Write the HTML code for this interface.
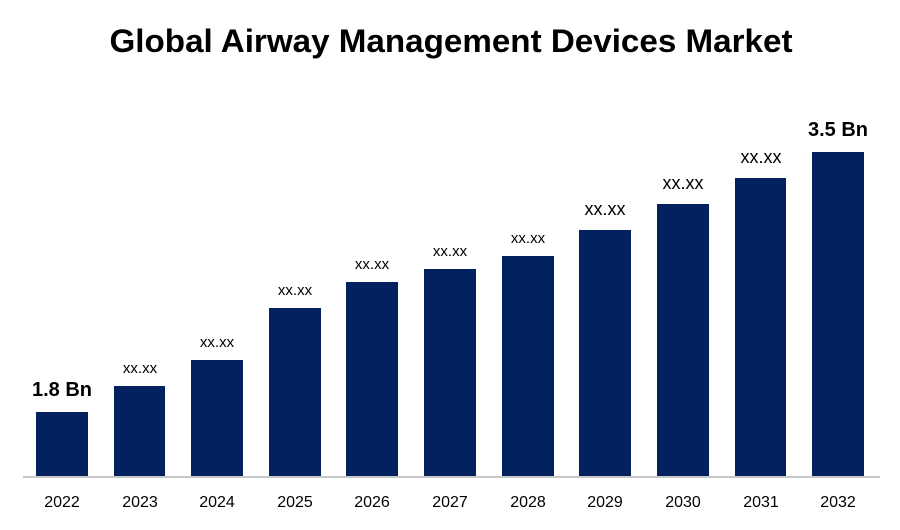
<!DOCTYPE html>
<html><head><style>body{margin:0;background:#fff}</style></head><body>
<svg width="900" height="525" xmlns="http://www.w3.org/2000/svg" font-family="Liberation Sans, sans-serif">
<rect width="900" height="525" fill="#fff"/>
<text x="451" y="52" text-anchor="middle" font-size="32" font-weight="bold" textLength="683" lengthAdjust="spacingAndGlyphs" fill="#000">Global Airway Management Devices Market</text>
<line x1="23" y1="477" x2="880" y2="477" stroke="#c8c8c8" stroke-width="2"/>
<g fill="#02215e">
<rect x="36" y="412" width="52" height="64"/>
<rect x="114" y="386" width="51" height="90"/>
<rect x="191" y="360" width="52" height="116"/>
<rect x="269" y="308" width="52" height="168"/>
<rect x="346" y="282" width="52" height="194"/>
<rect x="424" y="269" width="52" height="207"/>
<rect x="502" y="256" width="52" height="220"/>
<rect x="579" y="230" width="52" height="246"/>
<rect x="657" y="204" width="52" height="272"/>
<rect x="735" y="178" width="51" height="298"/>
<rect x="812" y="152" width="52" height="324"/>
</g>
<g font-size="16" fill="#000" text-anchor="middle">
<text x="62" y="507">2022</text><text x="140" y="507">2023</text><text x="217" y="507">2024</text>
<text x="295" y="507">2025</text><text x="372" y="507">2026</text><text x="450" y="507">2027</text>
<text x="528" y="507">2028</text><text x="605" y="507">2029</text><text x="683" y="507">2030</text>
<text x="761" y="507">2031</text><text x="838" y="507">2032</text>
</g>
<g fill="#000" text-anchor="middle">
<text x="62" y="396" font-size="20" font-weight="bold">1.8 Bn</text>
<text x="140" y="373" font-size="15">xx.xx</text>
<text x="217" y="347" font-size="15">xx.xx</text>
<text x="295" y="295" font-size="15">xx.xx</text>
<text x="372" y="269" font-size="15">xx.xx</text>
<text x="450" y="256" font-size="15">xx.xx</text>
<text x="528" y="243" font-size="15">xx.xx</text>
<text x="605" y="215" font-size="18">xx.xx</text>
<text x="683" y="189" font-size="18">xx.xx</text>
<text x="761" y="163" font-size="18">xx.xx</text>
<text x="838" y="136" font-size="20" font-weight="bold">3.5 Bn</text>
</g>
</svg>
</body></html>
